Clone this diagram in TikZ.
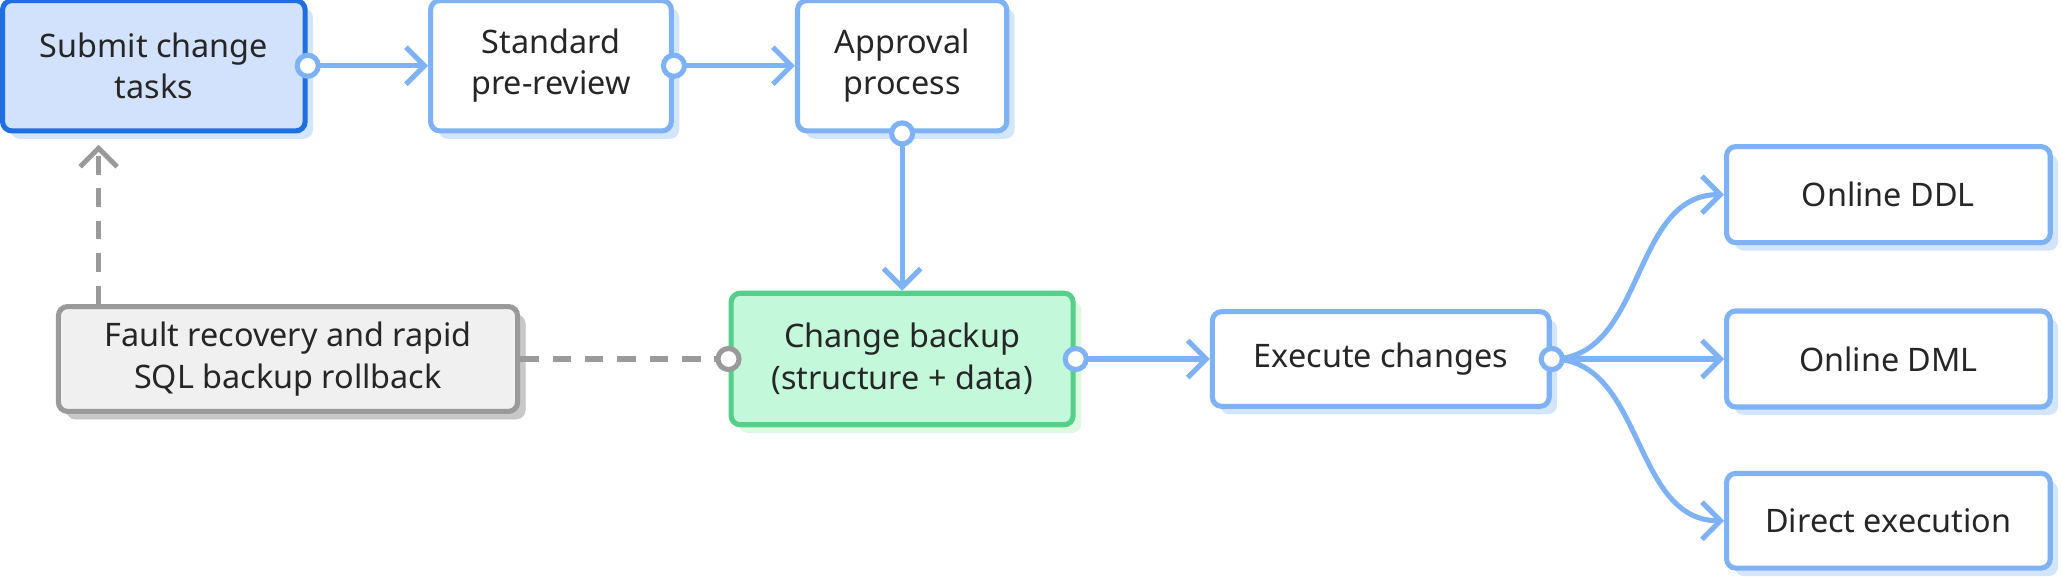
\documentclass[tikz,border=0pt]{standalone}
\usepackage{fontspec}
\setmainfont{Noto Sans}
\usetikzlibrary{arrows.meta,positioning,shadows,calc}
\definecolor{lineblue}{HTML}{7FB2F5}
\definecolor{shadeblue}{HTML}{D3E5FB}
\definecolor{darkblue}{HTML}{1F6FE0}
\definecolor{fillblue}{HTML}{D2E2FD}
\definecolor{linegreen}{HTML}{55D08A}
\definecolor{fillgreen}{HTML}{C3F8DA}
\definecolor{shadegreen}{HTML}{DDFADF}
\definecolor{linegray}{HTML}{9A9A9A}
\definecolor{fillgray}{HTML}{F0F0F0}
\definecolor{shadegray}{HTML}{C8C8C8}
\tikzset{
    box/.style={draw=lineblue, line width=1.1pt, fill=white, rounded corners=2pt,
        align=center, font=\fontsize{7}{9}\selectfont, text=black!85,
        drop shadow={shadow xshift=0.06cm, shadow yshift=-0.06cm, fill=shadeblue, opacity=1}},
    link/.style={lineblue, line width=1.1pt, -{Straight Barb[length=4pt,width=8pt]}},
    dashlink/.style={linegray, line width=1.1pt, dashed, dash pattern=on 4pt off 3pt},
    dot/.style={circle, draw=lineblue, line width=1.1pt, fill=white, inner sep=0pt, minimum size=0.16cm}
}
\begin{document}
\begin{tikzpicture}[x=0.01cm, y=-0.01cm]
\useasboundingbox (0,0) rectangle (1568,440);
% upper row
\node[box, draw=darkblue, fill=fillblue, minimum width=2.3cm, minimum height=0.99cm] (submit) at (117,50) {Submit change\\tasks};
\node[box, minimum width=1.83cm, minimum height=0.99cm] (std) at (419,50) {Standard\\pre-review};
\node[box, minimum width=1.59cm, minimum height=0.99cm] (appr) at (686,50) {Approval\\process};
% middle row
\node[box, draw=linegray, fill=fillgray, drop shadow={shadow xshift=0.06cm, shadow yshift=-0.06cm, fill=shadegray, opacity=1}, minimum width=3.49cm, minimum height=0.75cm] (fault) at (219,273) {Fault recovery and rapid\\SQL backup rollback};
\node[box, draw=linegreen, fill=fillgreen, drop shadow={shadow xshift=0.06cm, shadow yshift=-0.06cm, fill=shadegreen, opacity=1}, minimum width=2.6cm, minimum height=1.0cm] (backup) at (686,273) {Change backup\\(structure + data)};
\node[box, minimum width=2.56cm, minimum height=0.72cm] (exec) at (1050,273) {Execute changes};
% targets
\node[box, minimum width=2.46cm, minimum height=0.73cm] (ddl) at (1436,148) {Online DDL};
\node[box, minimum width=2.46cm, minimum height=0.73cm] (dml) at (1436,273) {Online DML};
\node[box, minimum width=2.46cm, minimum height=0.72cm] (direct) at (1436,396) {Direct execution};
% connectors
\draw[link] (submit.east) -- (std.west);
\draw[link] (std.east) -- (appr.west);
\draw[link] (appr.south) -- (backup.north);
\draw[link] (backup.east) -- (exec.west);
\draw[link] (exec.east) to[out=0, in=180] (ddl.west);
\draw[link] (exec.east) -- (dml.west);
\draw[link] (exec.east) to[out=0, in=180] (direct.west);
\draw[dashlink] (fault.east) -- (backup.west);
\draw[dashlink, -{Straight Barb[length=4pt,width=8pt]}] (fault.north -| 75,0) -- (75,110);
% ports
\node[dot] at (submit.east) {};
\node[dot] at (std.east) {};
\node[dot] at (appr.south) {};
\node[dot] at (backup.east) {};
\node[dot] at (exec.east) {};
\node[dot, draw=linegray] at (backup.west) {};
\end{tikzpicture}
\end{document}
